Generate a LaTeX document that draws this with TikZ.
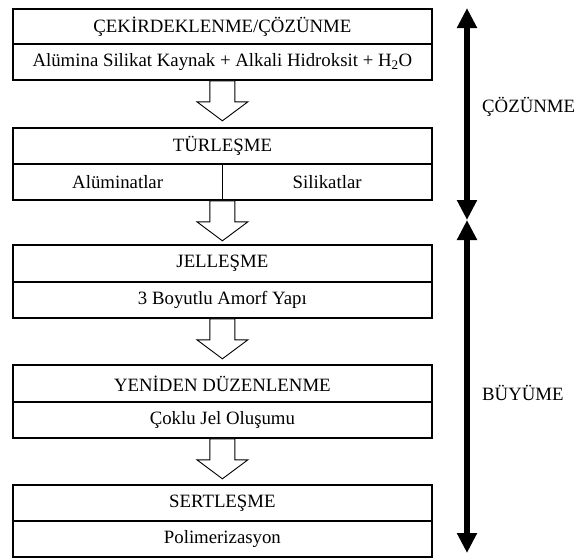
\documentclass[tikz,border=0pt]{standalone}
\usepackage{fontspec}
\setmainfont{Liberation Serif}
\usetikzlibrary{arrows.meta}
\begin{document}
\begin{tikzpicture}[x=1pt,y=-1pt,
  txt/.style={font=\fontsize{18.8}{22}\selectfont},
  cell/.style={txt, draw, line width=1.8pt, minimum width=419pt, inner sep=0pt, anchor=north west},
  halfcell/.style={cell, minimum width=209.5pt},
  blockarrow/.style={draw, line width=0.9pt, fill=white, line join=miter},
  phase/.style={line width=6.5pt, {Triangle[width=19pt,length=20pt]}-{Triangle[width=19pt,length=20pt]}},
  phaselabel/.style={txt, anchor=west, inner sep=0pt}]
\useasboundingbox (0,0) rectangle (574,558);
% box 1
\node[cell, minimum height=35pt] (b1t) at (12,8) {ÇEKİRDEKLENME/ÇÖZÜNME};
\node[cell, minimum height=36pt] (b1b) at (12,43) {Alümina Silikat Kaynak + Alkali Hidroksit + H\textsubscript{2}O};
% box 2
\node[cell, minimum height=36pt] (b2t) at (12,127) {TÜRLEŞME};
\node[halfcell, minimum height=36pt] (b2l) at (12,163) {Alüminatlar};
\node[halfcell, minimum height=36pt] (b2r) at (221.5,163) {Silikatlar};
% box 3
\node[cell, minimum height=37pt] (b3t) at (12,244) {JELLEŞME};
\node[cell, minimum height=36pt] (b3b) at (12,281) {3 Boyutlu Amorf Yapı};
% box 4
\node[cell, minimum height=37pt] (b4t) at (12,364) {YENİDEN DÜZENLENME};
\node[cell, minimum height=36pt] (b4b) at (12,401) {Çoklu Jel Oluşumu};
% box 5
\node[cell, minimum height=36pt] (b5t) at (12,484) {SERTLEŞME};
\node[cell, minimum height=36pt] (b5b) at (12,520) {Polimerizasyon};
% block arrows
\foreach \a in {b1b,b2l,b3b,b4b}{
  \draw[blockarrow] ([xshift=-12.5pt]\a.south -| b1t.south) -- ++(0,21) -- ++(-13,0) -- ++(25.5,19) -- ++(25.5,-19) -- ++(-13,0) -- ++(0,-21) -- cycle;
}
% phase arrows
\coordinate (p1) at (467,8);
\coordinate (p2) at (467,220);
\coordinate (p3) at (467,553);
\draw[phase] (p1) -- (p2);
\draw[phase] (p2) -- (p3);
\node[phaselabel] (l1) at (482,107) {ÇÖZÜNME};
\node[phaselabel] (l2) at (482,393) {BÜYÜME};
\end{tikzpicture}
\end{document}
